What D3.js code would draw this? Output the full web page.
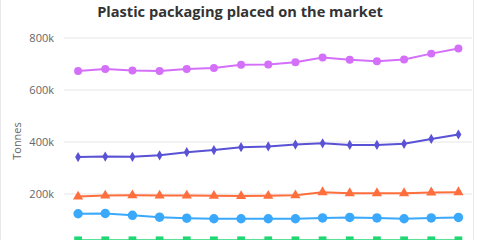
<!DOCTYPE html>
<html><head><meta charset="utf-8">
<script src="https://cdn.jsdelivr.net/npm/d3@7"></script>
<style>html,body{margin:0;padding:0;background:#fff;overflow:hidden}</style>
</head><body><svg id="c" width="480" height="240"></svg>
<script>
const years = ["2005","2006","2007","2008","2009","2010","2011","2012","2013","2014","2015","2016","2017","2018","2019"];
const seriesA = [671,679,673,671,679,683,695,696,705,723,714,709,715,738,758]; // purple circles (k)
const seriesB = [340,342,341,347,359,367,378,381,388,393,387,387,391,410,427]; // indigo diamonds
const seriesC = [188,192,193,192,192,191,190,191,193,205,201,201,201,204,205]; // orange triangles
const seriesD = [122,123,116,109,105,103,103,103,103,106,108,106,103,106,108]; // blue circles
const seriesE = [20,20,20,20,20,20,20,20,20,20,20,20,20,20,20]; // green squares
const yTicks = [200,400,600,800];
const title = "Plastic packaging placed on the market";
const yLabel = "Tonnes";

const series = [
  {v: seriesA, color: "#d46ff9", sym: d3.symbolCircle, size: 50},
  {v: seriesB, color: "#5a52d5", sym: d3.symbolDiamond, size: 30},
  {v: seriesC, color: "#ff6e3d", sym: d3.symbolTriangle, size: 45},
  {v: seriesD, color: "#3aa9fb", sym: d3.symbolCircle, size: 70},
  {v: seriesE, color: "#1fd873", sym: d3.symbolSquare, size: 60}
];

const svg = d3.select("#c");
const x = d3.scalePoint().domain(years).range([64.5, 472]).padding(0.5);
const y = d3.scaleLinear().domain([0, 800]).range([245.5, 37.5]);

svg.append("line").attr("x1",0.5).attr("x2",0.5).attr("y1",0).attr("y2",240).attr("stroke","#e8e8e8");
svg.append("line").attr("x1",473.5).attr("x2",473.5).attr("y1",0).attr("y2",240).attr("stroke","#e8e8e8");

svg.append("text").attr("x",240).attr("y",17).attr("text-anchor","middle")
  .attr("font-family","Open Sans, sans-serif").attr("font-weight","bold").attr("font-size",14.6)
  .attr("fill","#333").text(title);

const yAxis = d3.axisLeft(y).tickValues(yTicks).tickFormat(d => d + "k").tickSize(-(472-64)).tickPadding(10);
const ga = svg.append("g").attr("transform","translate(64,0)").call(yAxis);
ga.select(".domain").remove();
ga.selectAll(".tick line").attr("stroke","#e6e6e6");
ga.selectAll(".tick text").attr("font-family","Open Sans, sans-serif").attr("font-size",11).attr("fill","#666");

svg.append("text").attr("transform","translate(21,141) rotate(-90)").attr("text-anchor","middle")
  .attr("font-family","Open Sans, sans-serif").attr("font-size",11).attr("fill","#666").text(yLabel);

const line = d3.line().x((d,i) => x(years[i])).y(d => y(d));
series.forEach(s => {
  svg.append("path").datum(s.v).attr("d", line).attr("fill","none").attr("stroke", s.color).attr("stroke-width",2);
  svg.append("g").selectAll("path").data(s.v).join("path")
    .attr("transform",(d,i) => `translate(${x(years[i])},${y(d)})`)
    .attr("d", d3.symbol().type(s.sym).size(s.size)).attr("fill", s.color);
});
</script></body></html>
